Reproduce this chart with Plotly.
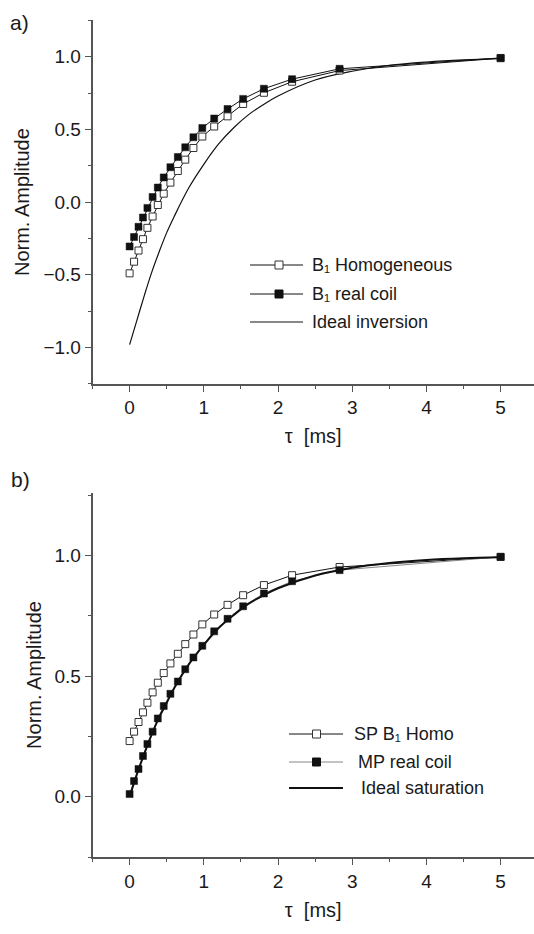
import plotly.graph_objects as go

# ---------------- data ----------------
tau = [0, 0.06, 0.12, 0.18, 0.24, 0.31, 0.38, 0.46, 0.55, 0.65,
       0.75, 0.86, 0.98, 1.14, 1.32, 1.53, 1.81, 2.19, 2.83, 5.0]

# panel a) inversion recovery
a_b1_homogeneous = [-0.49, -0.41, -0.333, -0.255, -0.177, -0.099, -0.02, 0.058, 0.134, 0.214,
                    0.292, 0.372, 0.451, 0.52, 0.59, 0.675, 0.752, 0.828, 0.905, 0.99]
a_b1_real_coil = [-0.305, -0.24, -0.17, -0.106, -0.04, 0.035, 0.10, 0.17, 0.24, 0.31,
                  0.377, 0.446, 0.51, 0.575, 0.64, 0.71, 0.78, 0.846, 0.917, 0.992]
tau_ideal = [0, 0.1, 0.2, 0.3, 0.4, 0.5, 0.6, 0.8, 1.0, 1.2, 1.4, 1.6, 1.8, 2.0,
             2.5, 3.0, 3.5, 4.0, 4.5, 5.0]
a_ideal_inversion = [-0.98, -0.81, -0.64, -0.48, -0.34, -0.21, -0.10, 0.10, 0.26, 0.40,
                     0.51, 0.60, 0.67, 0.73, 0.84, 0.90, 0.94, 0.963, 0.978, 0.987]

# panel b) saturation recovery
b_sp_b1_homo = [0.231, 0.27, 0.31, 0.35, 0.39, 0.433, 0.473, 0.513, 0.553, 0.593,
                0.633, 0.673, 0.715, 0.756, 0.796, 0.836, 0.878, 0.919, 0.953, 0.995]
b_mp_real_coil = [0.011, 0.065, 0.115, 0.169, 0.219, 0.27, 0.325, 0.376, 0.427, 0.478,
                  0.529, 0.578, 0.626, 0.686, 0.738, 0.79, 0.843, 0.894, 0.94, 0.995]
b_ideal_saturation = [0.0, 0.095, 0.18, 0.26, 0.33, 0.39, 0.45, 0.55, 0.63, 0.70,
                      0.753, 0.80, 0.835, 0.865, 0.918, 0.95, 0.97, 0.982, 0.989, 0.993]

x_tickvals = [0, 1, 2, 3, 4, 5]
x_ticktext = ["0", "1", "2", "3", "4", "5"]
a_tickvals = [-1.0, -0.5, 0.0, 0.5, 1.0]
a_ticktext = ["\u22121.0", "\u22120.5", "0.0", "0.5", "1.0"]
b_tickvals = [0.0, 0.5, 1.0]
b_ticktext = ["0.0", "0.5", "1.0"]

legend_a = ["B\u2081 Homogeneous", "B\u2081 real coil", "Ideal inversion"]
legend_b = ["SP B\u2081 Homo", "MP real coil", "Ideal saturation"]

# ---------------- figure ----------------
W, H = 534, 934
FONT = "Liberation Sans, Arial, Helvetica, sans-serif"
AX = "#555555"
TXT = "#1a1a1a"


def px(x):
    return x / W


def py(y):
    return 1 - y / H


fig = go.Figure()

open_marker = dict(symbol="square", size=7, color="white", line=dict(color="#333333", width=1))
fill_marker = dict(symbol="square", size=7, color="#111111", line=dict(color="#111111", width=0.5))

# panel a
fig.add_trace(go.Scatter(x=tau_ideal, y=a_ideal_inversion, mode="lines", line=dict(color="#111111", width=1.2, shape="spline"),
                         name=legend_a[2], xaxis="x", yaxis="y", showlegend=False))
fig.add_trace(go.Scatter(x=tau, y=a_b1_homogeneous, mode="lines+markers", line=dict(color="#111111", width=1),
                         marker=open_marker, name=legend_a[0], xaxis="x", yaxis="y", showlegend=False))
fig.add_trace(go.Scatter(x=tau, y=a_b1_real_coil, mode="lines+markers", line=dict(color="#111111", width=1),
                         marker=fill_marker, name=legend_a[1], xaxis="x", yaxis="y", showlegend=False))

# panel b
fig.add_trace(go.Scatter(x=tau, y=b_sp_b1_homo, mode="lines+markers", line=dict(color="#111111", width=1),
                         marker=open_marker, name=legend_b[0], xaxis="x2", yaxis="y2", showlegend=False))
fig.add_trace(go.Scatter(x=tau, y=b_mp_real_coil, mode="lines+markers", line=dict(color="#888888", width=1),
                         marker=fill_marker, name=legend_b[1], xaxis="x2", yaxis="y2", showlegend=False))
fig.add_trace(go.Scatter(x=tau_ideal, y=b_ideal_saturation, mode="lines", line=dict(color="#111111", width=2, shape="spline"),
                         name=legend_b[2], xaxis="x2", yaxis="y2", showlegend=False))

xdom = [px(92.5), 1.0]
ydom_a = [py(383.8), py(20.4)]
ydom_b = [py(857), py(493)]

common_axis = dict(
    showline=True, linecolor=AX, linewidth=1.5, showgrid=False, zeroline=False,
    ticks="outside", ticklen=6, tickwidth=1.3, tickcolor=AX,
    tickfont=dict(family=FONT, size=19, color=TXT), automargin=False,
)

xtitle = "\u03c4\u00a0\u00a0[ms]"

fig.update_layout(
    width=W, height=H,
    margin=dict(l=0, r=0, t=0, b=0),
    paper_bgcolor="white", plot_bgcolor="white",
    showlegend=False,
    font=dict(family=FONT, color=TXT),
    xaxis=dict(common_axis, domain=xdom, anchor="y", range=[-0.5, 5.45],
               tickvals=x_tickvals, ticktext=x_ticktext,
               minor=dict(dtick=0.5, tick0=0, ticks="outside", ticklen=3, tickcolor=AX, tickwidth=1.2),
               title=dict(text=xtitle, font=dict(family=FONT, size=20, color=TXT), standoff=12)),
    yaxis=dict(common_axis, domain=ydom_a, anchor="x", range=[-1.25, 1.25],
               tickvals=a_tickvals, ticktext=a_ticktext,
               minor=dict(dtick=0.25, tick0=0, ticks="outside", ticklen=3, tickcolor=AX, tickwidth=1.2),
               title=dict(text="Norm. Amplitude", font=dict(family=FONT, size=20, color=TXT), standoff=8)),
    xaxis2=dict(common_axis, domain=xdom, anchor="y2", range=[-0.5, 5.45],
                tickvals=x_tickvals, ticktext=x_ticktext,
                minor=dict(dtick=0.5, tick0=0, ticks="outside", ticklen=3, tickcolor=AX, tickwidth=1.2),
                title=dict(text=xtitle, font=dict(family=FONT, size=20, color=TXT), standoff=12)),
    yaxis2=dict(common_axis, domain=ydom_b, anchor="x2", range=[-0.25, 1.26],
                tickvals=b_tickvals, ticktext=b_ticktext,
                minor=dict(dtick=0.25, tick0=0, ticks="outside", ticklen=3, tickcolor=AX, tickwidth=1.2),
                title=dict(text="Norm. Amplitude", font=dict(family=FONT, size=20, color=TXT), standoff=8)),
)

annotations = [
    dict(text="a)", x=px(8), y=py(23), xref="paper", yref="paper", xanchor="left", yanchor="middle",
         showarrow=False, font=dict(family=FONT, size=21, color=TXT)),
    dict(text="b)", x=px(9), y=py(479), xref="paper", yref="paper", xanchor="left", yanchor="middle",
         showarrow=False, font=dict(family=FONT, size=21, color=TXT)),
]
shapes = []

# manual legends
leg_a = dict(x0=250, x1=303, xm=279, rows=[265, 294, 322],
             lines=[("#111111", 1), ("#111111", 1), ("#111111", 1)],
             markers=["open", "fill", None], xts=[310, 310, 310])
leg_b = dict(x0=289, x1=343, xm=316.5, rows=[734, 762, 788],
             lines=[("#111111", 1), ("#888888", 1.2), ("#111111", 2)],
             markers=["open", "fill", None], xts=[352, 356, 359])

for leg, labels in ((leg_a, legend_a), (leg_b, legend_b)):
    for i, yrow in enumerate(leg["rows"]):
        col, wd = leg["lines"][i]
        shapes.append(dict(type="line", xref="paper", yref="paper", x0=px(leg["x0"]), x1=px(leg["x1"]),
                           y0=py(yrow), y1=py(yrow), line=dict(color=col, width=wd)))
        m = leg["markers"][i]
        if m:
            s = 4
            shapes.append(dict(type="rect", xref="paper", yref="paper",
                               x0=px(leg["xm"] - s), x1=px(leg["xm"] + s), y0=py(yrow + s), y1=py(yrow - s),
                               fillcolor="white" if m == "open" else "#111111",
                               line=dict(color="#333333" if m == "open" else "#111111", width=1)))
        annotations.append(dict(text=labels[i], x=px(leg["xts"][i]), y=py(yrow), xref="paper", yref="paper",
                                xanchor="left", yanchor="middle", showarrow=False,
                                font=dict(family=FONT, size=18, color=TXT)))

fig.update_layout(annotations=annotations, shapes=shapes)

fig.write_html("out.html")
